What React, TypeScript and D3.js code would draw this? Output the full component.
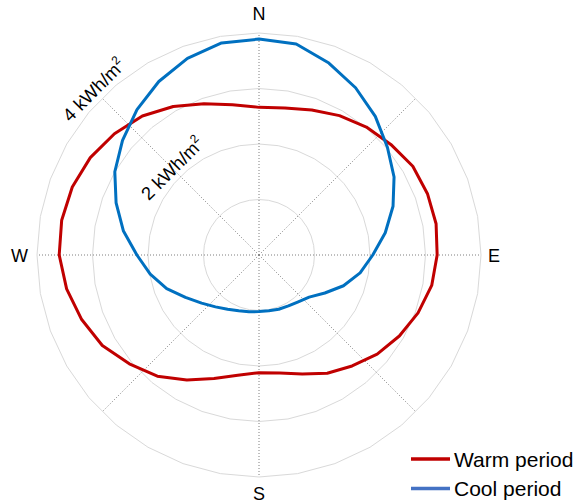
import * as d3 from 'd3';

// compass bearing of each sample, degrees clockwise from north
const bearings = [
    0, 10, 20, 30, 40, 50, 60, 70, 80, 90, 100, 110,
    120, 130, 140, 150, 160, 170, 180, 190, 200, 210, 220, 230,
    240, 250, 260, 270, 280, 290, 300, 310, 320, 330, 340, 350
];

// kWh/m2 per direction
const warmPeriod = [
    2.66, 2.69, 2.78, 2.90, 3.01, 3.10, 3.20, 3.23, 3.24, 3.21, 3.16, 3.05,
    2.92, 2.78, 2.61, 2.46, 2.28, 2.16, 2.12, 2.20, 2.37, 2.60, 2.85, 3.05,
    3.26, 3.40, 3.52, 3.60, 3.61, 3.58, 3.51, 3.40, 3.27, 3.09, 2.90, 2.75
];
const coolPeriod = [
    3.89, 3.86, 3.68, 3.48, 3.26, 3.02, 2.81, 2.57, 2.31, 2.05, 1.85, 1.62,
    1.37, 1.18, 1.10, 1.06, 1.04, 1.02, 1.02, 1.04, 1.07, 1.13, 1.22, 1.35,
    1.53, 1.77, 1.99, 2.20, 2.48, 2.74, 3.00, 3.21, 3.42, 3.61, 3.77, 3.88
];

const ringValues = [1, 2, 3, 4];
const ringLabels = [
    { value: 2, text: '2 kWh/m' },
    { value: 4, text: '4 kWh/m' }
];
const spokes = [0, 45, 90, 135, 180, 225, 270, 315];
const compass = [
    { angle: 0, label: 'N' },
    { angle: 90, label: 'E' },
    { angle: 180, label: 'S' },
    { angle: 270, label: 'W' }
];

const series = [
    { name: 'Warm period', values: warmPeriod, color: '#c00000', legendColor: '#c00000' },
    { name: 'Cool period', values: coolPeriod, color: '#0070c0', legendColor: '#4472c4' }
];

export default function App() {
    const width = 578;
    const height = 504;
    const cx = 259;
    const cy = 255;
    const outer = 222;
    const font = 'Liberation Sans, Arial, sans-serif';

    const r = d3.scaleLinear().domain([0, 4]).range([0, outer]);
    const rad = (deg: number) => (deg * Math.PI) / 180;

    const ringPath = (v: number) =>
        d3.lineRadial<number>()
            .angle(d => rad(d))
            .radius(() => r(v))
            .curve(d3.curveLinearClosed)(bearings) || '';

    const seriesPath = (values: number[]) =>
        d3.lineRadial<number>()
            .angle((_, i) => rad(bearings[i]))
            .radius(d => r(d))
            .curve(d3.curveLinearClosed)(values) || '';

    const polar = (deg: number, radius: number) => [
        radius * Math.sin(rad(deg)),
        -radius * Math.cos(rad(deg))
    ];

    return (
        <svg
            width={width}
            height={height}
            style={{ position: 'absolute', left: 0, top: 0, background: '#fff' }}
            fontFamily={font}
        >
            <g transform={`translate(${cx},${cy})`}>
                {/* Rings */}
                {ringValues.map(v => (
                    <path key={v} d={ringPath(v)} fill="none" stroke="#d9d9d9" strokeWidth={1} />
                ))}

                {/* Spokes */}
                {spokes.map(a => {
                    const [x, y] = polar(a, outer);
                    return (
                        <line key={a} x1={0} y1={0} x2={x} y2={y}
                            stroke="#7f7f7f" strokeWidth={1} strokeDasharray="1,2" />
                    );
                })}

                {/* Ring labels, along the NW diagonal */}
                {ringLabels.map(l => {
                    const [x, y] = polar(315, r(l.value) + 5);
                    return (
                        <text key={l.value} transform={`translate(${x},${y}) rotate(-45)`}
                            textAnchor="middle" fontSize={18.5} fill="#000">
                            {l.text}
                            <tspan fontSize={12} dy={-8}>2</tspan>
                        </text>
                    );
                })}

                {/* Series */}
                {series.map(s => (
                    <path key={s.name} d={seriesPath(s.values)} fill="none"
                        stroke={s.color} strokeWidth={3} strokeLinejoin="round" />
                ))}

                {/* Compass labels */}
                {compass.map(c => {
                    const [x, y] = polar(c.angle, outer + 10);
                    const anchor = c.angle === 90 ? 'start' : c.angle === 270 ? 'end' : 'middle';
                    const dy = c.angle === 0 ? -3 : c.angle === 180 ? 12.5 : 6.5;
                    const dx = c.angle === 90 ? -3 : c.angle === 270 ? 1 : 0;
                    return (
                        <text key={c.label} x={x + dx} y={y + dy} textAnchor={anchor}
                            fontSize={18} fill="#000">
                            {c.label}
                        </text>
                    );
                })}
            </g>

            {/* Legend */}
            {series.map((s, i) => (
                <g key={s.name} transform={`translate(411,${459 + i * 29.5})`}>
                    <line x1={0} x2={39} y1={0} y2={0} stroke={s.legendColor} strokeWidth={3.5} />
                    <text x={43} y={7.5} fontSize={21} fill="#000">{s.name}</text>
                </g>
            ))}
        </svg>
    );
}
